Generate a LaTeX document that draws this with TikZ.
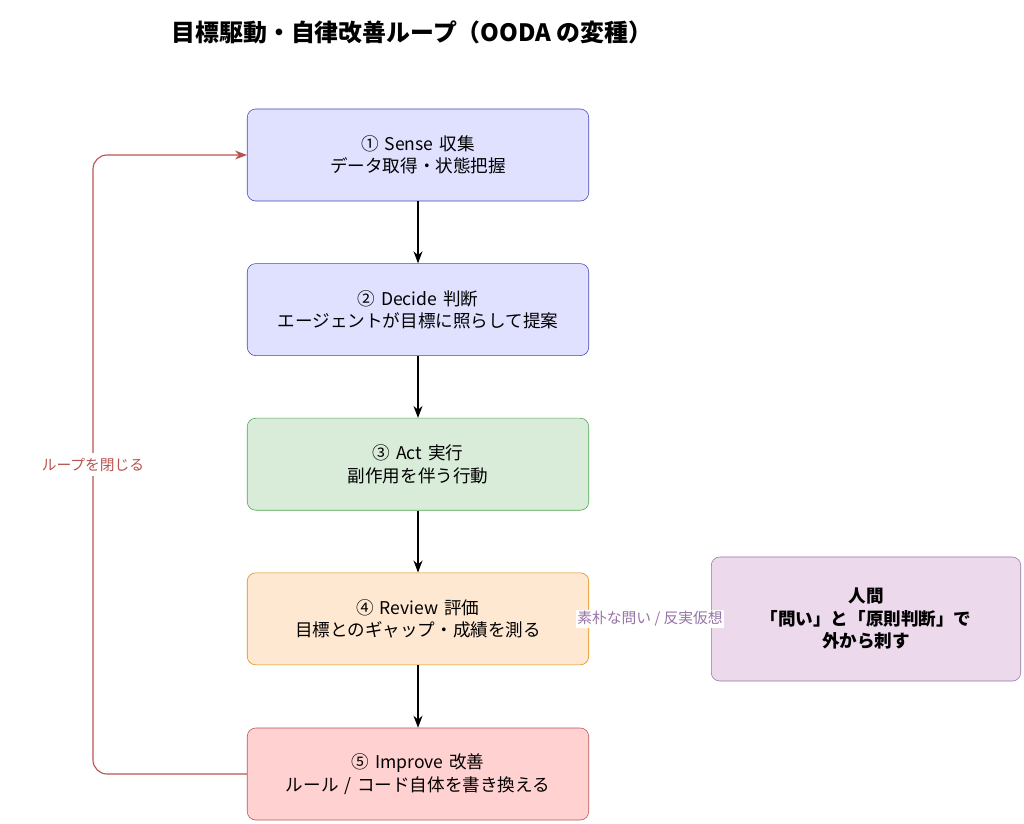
\documentclass[tikz,border=0pt]{standalone}
\usepackage{fontspec}
\setmainfont{Noto Sans CJK JP}
\usetikzlibrary{positioning,arrows.meta}
\tikzstyle{stage}=[draw, rounded corners=6pt, text width=8.3cm, align=center,
  minimum width=8.5cm, minimum height=2.3cm, font=\fontsize{12.5}{16}\selectfont]
\tikzstyle{human}=[stage, text width=7.5cm,
  minimum width=7.72cm, minimum height=3.1cm, font=\fontsize{12.5}{16}\selectfont\bfseries]
\tikzstyle{line}=[draw, thick, -{Stealth[length=3mm]}]
\definecolor{loopred}{RGB}{184,84,80}
\definecolor{humanviolet}{RGB}{150,115,166}
\begin{document}
\begin{tikzpicture}[x=0.025cm,y=-0.025cm]
  \useasboundingbox (0,0) rectangle (1024,823);
  % title
  \node (TITLE) at (412,32) {\fontsize{17}{20}\selectfont\bfseries 目標駆動・自律改善ループ（OODA の変種）};

  % loop stages
  \node (SENSE) [stage, draw=blue!45!gray, fill=blue!12] at (418,155) {① Sense 収集\\データ取得・状態把握};
  \node (DECIDE) [stage, draw=blue!45!gray, fill=blue!12, below=1.55cm of SENSE] {② Decide 判断\\エージェントが目標に照らして提案};
  \node (ACT) [stage, draw=green!50!black!70, fill=green!50!black!15, below=1.55cm of DECIDE] {③ Act 実行\\副作用を伴う行動};
  \node (REVIEW) [stage, draw=orange!80!yellow!90!black, fill=orange!18, below=1.55cm of ACT] {④ Review 評価\\目標とのギャップ・成績を測る};
  \node (IMPROVE) [stage, draw=loopred, fill=red!18] at (418,774) {⑤ Improve 改善\\ルール / コード自体を書き換える};
  \node (HUMAN) [human, draw=humanviolet, fill=violet!15] at (866,619) {人間\\「問い」と「原則判断」で\\外から刺す};
  \coordinate (LOOPBOT) at (93,774);
  \coordinate (LOOPTOP) at (93,155);

  % arrows
  \path [line] (SENSE) -- (DECIDE);
  \path [line] (DECIDE) -- (ACT);
  \path [line] (ACT) -- (REVIEW);
  \path [line] (REVIEW) -- (IMPROVE);
  \path [line, draw=loopred, rounded corners=10pt] (IMPROVE.west) -- (LOOPBOT)
    -- node [pos=0.5, fill=white, text=loopred, font=\fontsize{10.5}{12}\selectfont] {ループを閉じる} (LOOPTOP)
    -- (SENSE.west);
  \path (HUMAN.west) -- node [fill=white, inner sep=1pt, text=humanviolet, font=\fontsize{10.5}{12}\selectfont] {素朴な問い / 反実仮想} (REVIEW.east);
\end{tikzpicture}
\end{document}
